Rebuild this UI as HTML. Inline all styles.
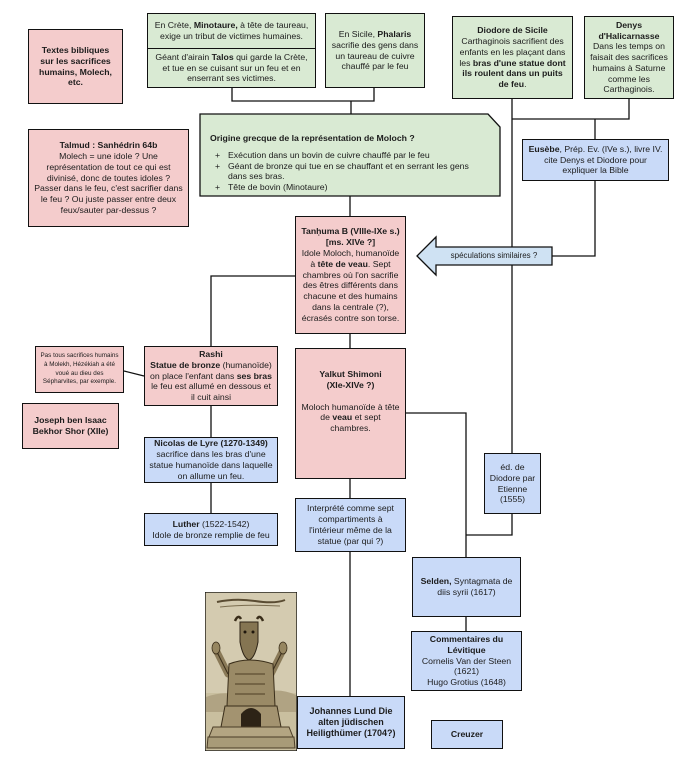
<!DOCTYPE html>
<html><head><meta charset="utf-8">
<style>
html,body{margin:0;padding:0;background:#fff;}
body{width:699px;height:768px;position:relative;overflow:hidden;font-family:"Liberation Sans",Arial,sans-serif;color:#1c1c1c;}
.b{position:absolute;box-sizing:border-box;border:1.3px solid #111;display:flex;align-items:center;justify-content:center;text-align:center;font-size:8.7px;line-height:10.8px;white-space:nowrap;}
.p{background:#f4cccc}
.g{background:#d9ead3}
.u{background:#c9daf8}
b{font-weight:bold}
svg{position:absolute;left:0;top:0}
.o{position:absolute;font-size:8.7px;line-height:10.5px;white-space:nowrap}
</style></head><body>
<svg width="699" height="768" fill="none" stroke="#111" stroke-width="1.3">
<path d="M232 88V101H374V88 M351 101V114"/>
<path d="M350 196V216"/>
<path d="M295 276H211V346"/>
<path d="M124 371L144 376"/>
<path d="M211 406V437 M211 483V513"/>
<path d="M350 334V348 M350 479V498 M350 552V696"/>
<path d="M406 413H466V557 M466 617V631"/>
<path d="M512 99V453 M512 514V535H466"/>
<path d="M629 99V119H512 M595 119V139 M595 181V256H552"/>
<polygon points="417,256 436,237 436,247 552,247 552,265 436,265 436,275" fill="#cfe2f3"/>
<polygon points="200,114 488,114 500,127 500,196 200,196" fill="#d9ead3"/>
</svg>
<div class="o" style="left:436px;top:251px;width:116px;text-align:center;font-size:8px;line-height:10px;">spéculations similaires ?</div>

<div class="o" style="left:210px;top:133px;"><b>Origine grecque de la représentation de Moloch ?</b></div>
<div class="o" style="left:215px;top:150px;">+<br>+<br><br>+</div>
<div class="o" style="left:228px;top:150px;">Exécution dans un bovin de cuivre chauffé par le feu<br>Géant de bronze qui tue en se chauffant et en serrant les gens<br>dans ses bras.<br>Tête de bovin (Minotaure)</div>

<div class="b p" style="left:28px;top:29px;width:95px;height:75px;"><b>Textes bibliques<br>sur les sacrifices<br>humains, Molech,<br>etc.</b></div>

<div class="b g" style="left:147px;top:13px;width:169px;height:75px;flex-direction:column;align-items:stretch;">
<div style="height:35px;border-bottom:1.3px solid #111;box-sizing:border-box;display:flex;align-items:center;justify-content:center;"><span>En Crète, <b>Minotaure,</b> à tête de taureau,<br>exige un tribut de victimes humaines.</span></div>
<div style="flex:1;display:flex;align-items:center;justify-content:center;"><span>Géant d'airain <b>Talos</b> qui garde la Crète,<br>et tue en se cuisant sur un feu et en<br>enserrant ses victimes.</span></div>
</div>

<div class="b g" style="left:325px;top:13px;width:100px;height:75px;"><span>En Sicile, <b>Phalaris</b><br>sacrifie des gens dans<br>un taureau de cuivre<br>chauffé par le feu</span></div>

<div class="b g" style="left:452px;top:16px;width:121px;height:83px;"><span><b>Diodore de Sicile</b><br>Carthaginois sacrifient des<br>enfants en les plaçant dans<br>les <b>bras d'une statue dont<br>ils roulent dans un puits<br>de feu</b>.</span></div>

<div class="b g" style="left:584px;top:16px;width:90px;height:83px;"><span><b>Denys<br>d'Halicarnasse</b><br>Dans les temps on<br>faisait des sacrifices<br>humains à Saturne<br>comme les<br>Carthaginois.</span></div>

<div class="b p" style="left:28px;top:129px;width:161px;height:98px;"><span><b>Talmud : Sanhédrin 64b</b><br>Molech = une idole ? Une<br>représentation de tout ce qui est<br>divinisé, donc de toutes idoles ?<br>Passer dans le feu, c'est sacrifier dans<br>le feu ? Ou juste passer entre deux<br>feux/sauter par-dessus ?</span></div>

<div class="b u" style="left:522px;top:139px;width:147px;height:42px;"><span><b>Eusèbe</b>, Prép. Ev. (IVe s.), livre IV.<br>cite Denys et Diodore pour<br>expliquer la Bible</span></div>

<div class="b p" style="left:295px;top:216px;width:111px;height:118px;"><span><b>Tanḥuma B (VIIIe-IXe s.)<br>[ms. XIVe ?]</b><br>Idole Moloch, humanoïde<br>à <b>tête de veau</b>. Sept<br>chambres où l'on sacrifie<br>des êtres différents dans<br>chacune et des humains<br>dans la centrale (?),<br>écrasés contre son torse.</span></div>

<div class="b p" style="left:35px;top:346px;width:89px;height:47px;font-size:6.3px;line-height:8.6px;"><span>Pas tous sacrifices humains<br>à Molekh, Hézékiah a été<br>voué au dieu des<br>Sépharvites, par exemple.</span></div>

<div class="b p" style="left:144px;top:346px;width:134px;height:60px;"><span><b>Rashi<br>Statue de bronze</b> (humanoïde)<br>on place l'enfant dans <b>ses bras</b><br>le feu est allumé en dessous et<br>il cuit ainsi</span></div>

<div class="b p" style="left:295px;top:348px;width:111px;height:131px;padding-bottom:24px;"><span><b>Yalkut Shimoni<br>(XIe-XIVe ?)</b><br><br>Moloch humanoïde à tête<br>de <b>veau</b> et sept<br>chambres.</span></div>

<div class="b p" style="left:22px;top:403px;width:97px;height:46px;"><b>Joseph ben Isaac<br>Bekhor Shor (XIIe)</b></div>

<div class="b u" style="left:144px;top:437px;width:134px;height:46px;"><span><b>Nicolas de Lyre (1270-1349)</b><br>sacrifice dans les bras d'une<br>statue humanoïde dans laquelle<br>on allume un feu.</span></div>

<div class="b u" style="left:484px;top:453px;width:57px;height:61px;"><span>éd. de<br>Diodore par<br>Etienne<br>(1555)</span></div>

<div class="b u" style="left:295px;top:498px;width:111px;height:54px;"><span>Interprété comme sept<br>compartiments à<br>l'intérieur même de la<br>statue (par qui ?)</span></div>

<div class="b u" style="left:144px;top:513px;width:134px;height:33px;"><span><b>Luther</b> (1522-1542)<br>Idole de bronze remplie de feu</span></div>

<div class="b u" style="left:412px;top:557px;width:109px;height:60px;"><span><b>Selden,</b> Syntagmata de<br>diis syrii (1617)</span></div>

<div class="b u" style="left:411px;top:631px;width:111px;height:60px;"><span><b>Commentaires du<br>Lévitique</b><br>Cornelis Van der Steen<br>(1621)<br>Hugo Grotius (1648)</span></div>

<div class="b u" style="left:297px;top:696px;width:108px;height:53px;font-size:9px;"><b>Johannes Lund Die<br>alten jüdischen<br>Heiligthümer (1704?)</b></div>

<div class="b u" style="left:431px;top:720px;width:72px;height:29px;"><b>Creuzer</b></div>

<svg style="left:205px;top:592px" width="92" height="159" viewBox="0 0 92 159">
<rect x="0" y="0" width="92" height="159" fill="#c9bf9f" stroke="#111" stroke-width="1.3"/>
<rect x="1" y="1" width="90" height="100" fill="#d4cbb0"/>
<path d="M12 10 Q30 6 50 9 T80 8" stroke="#5a4c32" stroke-width="2" fill="none"/>
<path d="M15 15 Q40 12 75 14" stroke="#7a6c4e" stroke-width="1" fill="none"/>
<path d="M1 105 Q20 98 35 104 L60 100 Q75 96 91 103 L91 120 L1 120Z" fill="#b0a383"/>
<path d="M30 29 Q33 22 36 27 M52 27 Q55 22 58 29" stroke="#3a2e1a" stroke-width="2.5" fill="none"/>
<path d="M35 30 H53 V50 Q50 66 44 68 Q38 66 35 50Z" fill="#857552" stroke="#2e2416" stroke-width="1"/>
<circle cx="40" cy="40" r="1.5" fill="#1e160c"/><circle cx="48" cy="40" r="1.5" fill="#1e160c"/>
<path d="M23 82 L12 60 M66 82 L77 60" stroke="#8a7a58" stroke-width="7" stroke-linecap="round"/>
<path d="M23 82 L12 60 M66 82 L77 60" stroke="#3a2e1a" stroke-width="1" fill="none"/>
<ellipse cx="11" cy="56" rx="4" ry="6" fill="#968660" stroke="#3a2e1a" stroke-width="0.8"/>
<ellipse cx="78" cy="56" rx="4" ry="6" fill="#968660" stroke="#3a2e1a" stroke-width="0.8"/>
<path d="M24 72 Q44 64 68 72 L70 114 L22 114Z" fill="#9a8a66" stroke="#3a2e1a" stroke-width="1"/>
<path d="M30 82 H60 M30 92 H60 M30 102 H60" stroke="#5e4e32" stroke-width="1.2"/>
<path d="M20 114 H72 L76 135 H16Z" fill="#a39370" stroke="#3a2e1a" stroke-width="1"/>
<path d="M36 135 V122 Q46 110 56 122 V135Z" fill="#2d2316"/>
<path d="M8 135 H84 L88 145 H4Z" fill="#b3a582" stroke="#4a3c26" stroke-width="1"/>
<path d="M3 145 H89 L90 156 H2Z" fill="#a89b78" stroke="#4a3c26" stroke-width="1"/>
</svg>
</body></html>
